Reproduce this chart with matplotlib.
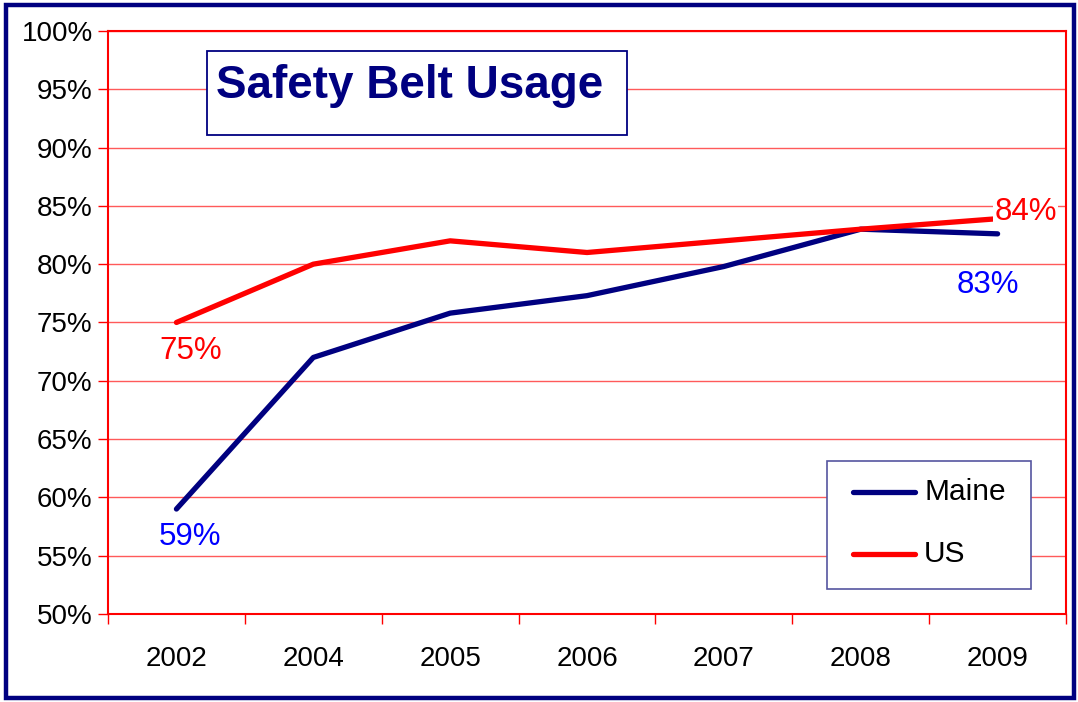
import matplotlib.pyplot as plt
from matplotlib.patches import Rectangle
from matplotlib.ticker import FuncFormatter, FixedLocator

plt.rcParams['font.family'] = ['Liberation Sans', 'DejaVu Sans']

years = ['2002', '2004', '2005', '2006', '2007', '2008', '2009']
maine = [59, 72, 75.8, 77.3, 79.8, 83, 82.6]
us = [75, 80, 82, 81, 82, 83, 83.9]
series_names = ['Maine', 'US']

NAVY = '#000080'
RED = '#FF0000'
BLUE = '#0000FF'

fig = plt.figure(figsize=(10.78, 7.02), dpi=100, facecolor='white')
ax = fig.add_axes([0.1002, 0.1254, 0.8887, 0.8305])

# outer frame around the whole picture
fig.patches.append(Rectangle((0.006, 0.006), 0.990, 0.987, transform=fig.transFigure,
                             fill=False, edgecolor=NAVY, linewidth=3.2))

x = list(range(len(years)))
ax.plot(x, maine, color=NAVY, lw=3.8, solid_capstyle='round', zorder=3)
ax.plot(x, us, color=RED, lw=3.8, solid_capstyle='round', zorder=3)

ax.set_xlim(-0.5, len(years) - 0.5)
ax.set_ylim(50, 100)
ax.set_yticks(range(50, 101, 5))
ax.yaxis.set_major_formatter(FuncFormatter(lambda v, p: f'{v:.0f}%'))
ax.yaxis.grid(True, color='#FF5A5A', lw=1.0)
ax.set_axisbelow(True)

# ticks at category boundaries, labels at centres
ax.xaxis.set_major_locator(FixedLocator([i - 0.5 for i in range(len(years) + 1)]))
ax.xaxis.set_minor_locator(FixedLocator(x))
ax.set_xticklabels([], minor=False)
ax.set_xticklabels(years, minor=True)
ax.tick_params(axis='x', which='major', length=7, width=1, color=RED, direction='out')
ax.tick_params(axis='x', which='minor', length=0, pad=23, labelsize=20)
ax.tick_params(axis='y', length=7, width=1, color=RED, direction='out', pad=4, labelsize=20)

for s in ax.spines.values():
    s.set_color(RED)
    s.set_linewidth(1.5)

# data labels
lab = dict(fontsize=22.5, ha='center', va='center', textcoords='offset pixels', zorder=5)
ax.annotate(f'{us[0]:.0f}%', (0, us[0]), xytext=(14, -29), color=RED, **lab)
ax.annotate(f'{maine[0]:.0f}%', (0, maine[0]), xytext=(14, -28), color=BLUE, **lab)
ax.annotate(f'{us[6]:.0f}%', (6, us[6]), xytext=(28, 7), color=RED,
            bbox=dict(boxstyle='square,pad=0.05', fc='white', ec='none'),
            arrowprops=dict(arrowstyle='-', color=RED, lw=1, shrinkA=0, shrinkB=0), **lab)
ax.annotate(f'{maine[6]:.0f}%', (6, maine[6]), xytext=(-10, -51), color=BLUE, **lab)

# title box
ax.add_patch(Rectangle((0.1033, 0.8216), 0.4384, 0.144, transform=ax.transAxes,
                       facecolor='white', edgecolor=NAVY, lw=1.3, zorder=4))
ax.text(0.315, 0.906, 'Safety Belt Usage', transform=ax.transAxes, ha='center', va='center',
        fontsize=33, fontweight='bold', color=NAVY, zorder=5)

# legend box drawn by hand so the padding matches
ax.add_patch(Rectangle((0.7505, 0.0429), 0.2129, 0.2196, transform=ax.transAxes,
                       facecolor='white', edgecolor='#5555A0', lw=1.2, zorder=4))
for name, col, yy in zip(series_names, [NAVY, RED], [0.2093, 0.1029]):
    ax.plot([0.7777, 0.8424], [yy, yy], transform=ax.transAxes, color=col, lw=3.8,
            solid_capstyle='round', zorder=5)
    ax.text(0.8518, yy, name, transform=ax.transAxes, ha='left', va='center',
            fontsize=21.5, color='black', zorder=5)

fig.savefig('out.png', dpi=100, facecolor='white')
